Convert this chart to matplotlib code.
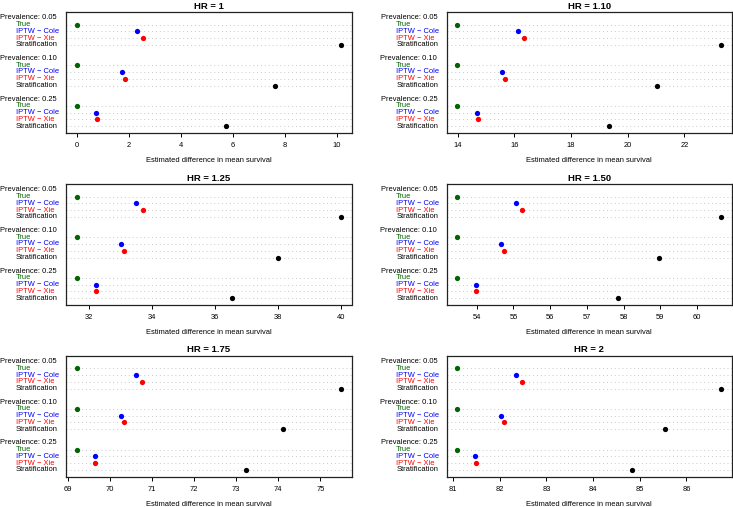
import matplotlib
matplotlib.use("Agg")
import matplotlib.pyplot as plt
from matplotlib.ticker import MultipleLocator
from matplotlib.transforms import offset_copy

plt.rcParams['font.family'] = ['Liberation Sans', 'DejaVu Sans']

# data
hr_titles = ["HR = 1", "HR = 1.10", "HR = 1.25", "HR = 1.50", "HR = 1.75", "HR = 2"]
prevalences = ["Prevalence: 0.05", "Prevalence: 0.10", "Prevalence: 0.25"]
methods = ["True", "IPTW \u2212 Cole", "IPTW \u2212 Xie", "Stratification"]
method_colors = ["darkgreen", "blue", "red", "black"]

true_vals = [0.0, 13.98, 31.62, 53.47, 69.21, 81.09]
cole_vals = [[2.31, 1.73, 0.74],
             [16.11, 15.57, 14.68],
             [33.50, 33.04, 32.22],
             [55.07, 54.67, 53.97],
             [70.61, 70.26, 69.64],
             [82.35, 82.03, 81.48]]
xie_vals = [[2.55, 1.86, 0.78],
            [16.33, 15.68, 14.70],
            [33.71, 33.13, 32.24],
            [55.24, 54.75, 53.99],
            [70.76, 70.33, 69.65],
            [82.48, 82.09, 81.49]]
strat_vals = [[10.17, 7.64, 5.74],
              [23.29, 21.03, 19.34],
              [40.00, 37.99, 36.55],
              [60.65, 58.95, 57.85],
              [75.49, 74.11, 73.24],
              [86.74, 85.54, 84.84]]
tick_steps = [2, 2, 2, 1, 1, 1]

W, H = 733, 507
fig = plt.figure(figsize=(W / 100, H / 100), dpi=100)

col_left = [66, 446.7]
col_right = [351.5, 731.5]
row_top = [12, 184, 355.7]
row_bot = [133, 305, 476.7]

for k in range(6):
    r, c = k // 2, k % 2
    ax = fig.add_axes([col_left[c] / W, 1 - row_bot[r] / H,
                       (col_right[c] - col_left[c]) / W, (row_bot[r] - row_top[r]) / H])
    lab_tr = offset_copy(ax.get_yaxis_transform(), fig=fig, x=-50.5, y=0, units='dots')
    grp_tr = offset_copy(ax.get_yaxis_transform(), fig=fig, x=-9.5, y=0, units='dots')
    for g in range(3):
        top = 17 - 6 * g
        vals = [true_vals[k], cole_vals[k][g], xie_vals[k][g], strat_vals[k][g]]
        ax.text(0, top, prevalences[g], transform=grp_tr, ha='right', va='center',
                fontsize=5.4, color='black')
        for i in range(4):
            y = top - 1 - i
            ax.axhline(y, color='#c8c8c8', lw=0.7, ls=(0, (1, 3)), zorder=1)
            ax.plot(vals[i], y, 'o', color=method_colors[i], ms=3.8, mew=0, zorder=3)
            ax.text(0, y, methods[i], transform=lab_tr, ha='left', va='center',
                    fontsize=5.4, color=method_colors[i])
    ax.margins(x=0.04)
    ax.set_ylim(0, 17.85)
    ax.set_yticks([])
    ax.xaxis.set_major_locator(MultipleLocator(tick_steps[k]))
    ax.tick_params(axis='x', length=2.9, width=0.7, pad=3.5, labelsize=5.4)
    for s in ax.spines.values():
        s.set_linewidth(0.9)
        s.set_color('#222222')
    ax.set_title(hr_titles[k], fontsize=6.8, fontweight='bold', pad=2.5)
    ax.set_xlabel("Estimated difference in mean survival", fontsize=5.4, labelpad=6)

fig.savefig("out.png", dpi=100)
